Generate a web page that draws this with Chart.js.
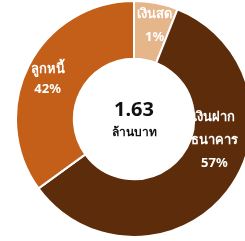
<!DOCTYPE html>
<html>
<head>
<meta charset="utf-8">
<script src="https://cdn.jsdelivr.net/npm/chart.js@4"></script>
<style>
  html, body { margin: 0; padding: 0; background: #ffffff; overflow: hidden; width: 245px; height: 241px; }
  #wrap { position: absolute; left: 15px; top: 0px; width: 238px; height: 238px; }
</style>
</head>
<body>
<div id="wrap"><canvas id="assetChart"></canvas></div>
<script>
// Asset breakdown (slice sizes as drawn, labels as printed)
const categories = [['เงินสด'], ['เงินฝาก', 'ธนาคาร'], ['ลูกหนี้']];
const sliceValues = [6, 59, 35];
const percentLabels = ['1%', '57%', '42%'];
const totalValue = '1.63';
const totalUnit = 'ล้านบาท';

const SLICE_COLORS = ['#e6b68b', '#5c2c0b', '#c45f19'];
const FONT = "'Noto Sans', 'DejaVu Sans', sans-serif";

// label shift from the default mid-arc spot, px
const LABEL_SHIFT = [[4, -6], [10, -33], [-7, 1]];

const sliceLabels = {
  id: 'sliceLabels',
  afterDatasetsDraw(chart) {
    const { ctx } = chart;
    const meta = chart.getDatasetMeta(0);
    ctx.save();
    ctx.fillStyle = '#ffffff';
    ctx.textAlign = 'center';
    ctx.textBaseline = 'middle';
    ctx.font = 'bold 13px ' + FONT;
    meta.data.forEach((arc, i) => {
      const pos = arc.tooltipPosition();
      const lines = categories[i].concat([percentLabels[i]]);
      const lh = i === 2 ? 20 : 23;
      const x = pos.x + LABEL_SHIFT[i][0];
      const y0 = pos.y + LABEL_SHIFT[i][1] - (lines.length - 1) * lh / 2;
      lines.forEach((t, k) => ctx.fillText(t, x, y0 + k * lh));
    });
    // centre total
    const arc0 = meta.data[0];
    ctx.fillStyle = '#111111';
    ctx.font = 'bold 20px ' + FONT;
    ctx.fillText(totalValue, arc0.x, arc0.y - 9);
    ctx.font = 'bold 12px ' + FONT;
    ctx.fillText(totalUnit, arc0.x, arc0.y + 14);
    ctx.restore();
  }
};

new Chart(document.getElementById('assetChart'), {
  type: 'doughnut',
  data: {
    labels: categories.map(c => c.join('')),
    datasets: [{
      data: sliceValues,
      backgroundColor: SLICE_COLORS,
      borderColor: '#ffffff',
      borderWidth: 2,
    }],
  },
  options: {
    responsive: true,
    maintainAspectRatio: false,
    animation: false,
    cutout: '51%',
    layout: { padding: 0 },
    plugins: {
      legend: { display: false },
      tooltip: { enabled: false },
    },
  },
  plugins: [sliceLabels],
});
</script>
</body>
</html>
